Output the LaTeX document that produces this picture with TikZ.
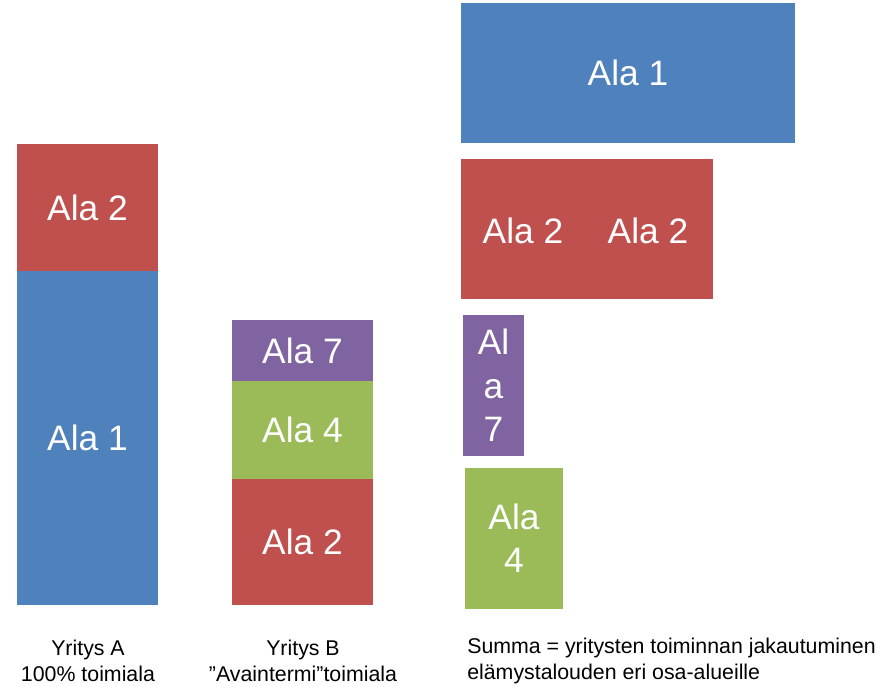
\documentclass[tikz,border=0pt]{standalone}
\usepackage{fontspec}
\setmainfont{Liberation Sans}
\definecolor{alablue}{HTML}{4F81BD}
\definecolor{alared}{HTML}{C0504D}
\definecolor{alapurple}{HTML}{8064A2}
\definecolor{alagreen}{HTML}{9BBB59}
\tikzset{
  alabox/.style={rectangle,inner sep=0pt,text=white,align=center,
    font=\fontsize{26.5}{32.5}\selectfont},
  alatext/.style={inner sep=0pt,text=white,font=\fontsize{26.5}{32.5}\selectfont},
  caption/.style={inner sep=0pt,font=\fontsize{16}{19.5}\selectfont}
}
\begin{document}
\begin{tikzpicture}[x=0.75pt,y=-0.75pt]
        \useasboundingbox (0,0) rectangle (889,686);
        %% Yritys A
        \node[alabox,fill=alablue,minimum width=105.75pt,minimum height=250.5pt] (a1) at (87.5,438) {Ala 1};
        \node[alabox,fill=alared,minimum width=105.75pt,minimum height=95.25pt] (a2) at (87.5,207.5) {Ala 2};
        %% Yritys B
        \node[alabox,fill=alared,minimum width=105.75pt,minimum height=94.5pt] (b2) at (302.5,542) {Ala 2};
        \node[alabox,fill=alagreen,minimum width=105.75pt,minimum height=73.5pt] (b4) at (302.5,430) {Ala 4};
        \node[alabox,fill=alapurple,minimum width=105.75pt,minimum height=45.75pt] (b7) at (302.5,350.5) {Ala 7};
        %% Summa
        \node[alabox,fill=alablue,minimum width=250.5pt,minimum height=105pt] (s1) at (628,73) {Ala 1};
        \node[alabox,fill=alared,minimum width=189pt,minimum height=105pt] (s2) at (587,229) {};
        \node[alatext] (s2a) at (523,231) {Ala 2};
        \node[alatext] (s2b) at (648,231) {Ala 2};
        \node[alabox,fill=alapurple,minimum width=45.75pt,minimum height=105.75pt] (s7) at (493.5,385.5) {Al\\a\\7};
        \node[alabox,fill=alagreen,minimum width=73.5pt,minimum height=105.75pt] (s4) at (514,538.5) {Ala\\4};
        %% Labels
        \node[caption,align=center] (ya) at (88,661) {Yritys A\\100\% toimiala};
        \node[caption,align=center] (yb) at (303,661) {Yritys B\\”Avaintermi”toimiala};
        \node[caption,align=left,anchor=west] (sum) at (467,661) {Summa = yritysten toiminnan jakautuminen\\elämystalouden eri osa-alueille};
\end{tikzpicture}
\end{document}
